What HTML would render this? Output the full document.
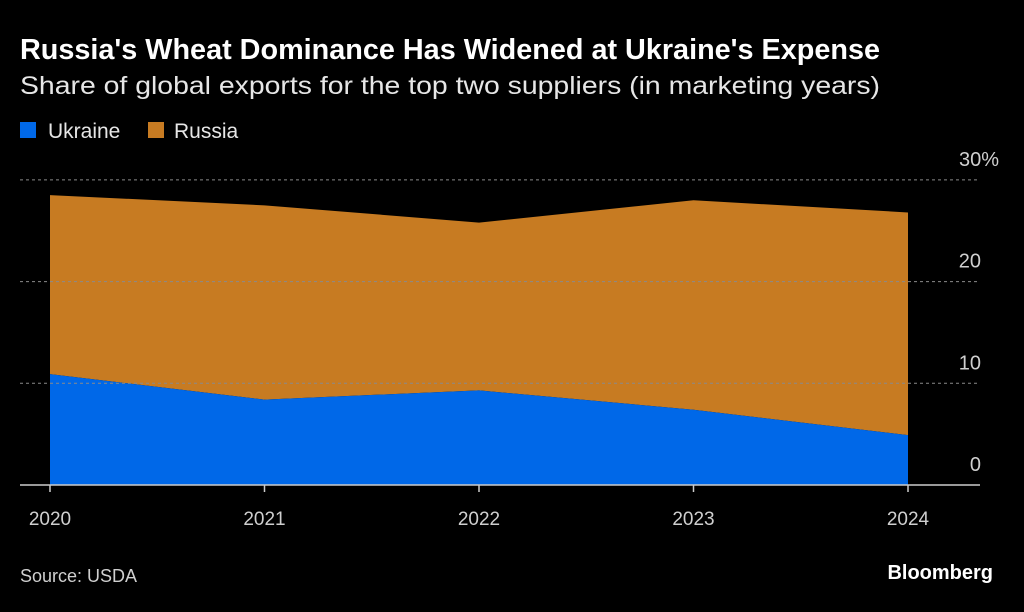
<!DOCTYPE html>
<html><head><meta charset="utf-8"><style>
body{margin:0;background:#000;width:1024px;height:607px;overflow:hidden;font-family:"Liberation Sans",sans-serif;color:#fff}
svg text{font-family:"Liberation Sans",sans-serif}
</style></head><body>
<svg width="1024" height="607">
<text x="20" y="59" font-size="28.5" font-weight="bold" fill="#fff" textLength="860" lengthAdjust="spacingAndGlyphs">Russia's Wheat Dominance Has Widened at Ukraine's Expense</text>
<text x="20" y="94" font-size="25" fill="#e6e6e6" textLength="860" lengthAdjust="spacingAndGlyphs">Share of global exports for the top two suppliers (in marketing years)</text>
<rect x="20" y="122" width="16" height="16" fill="#0068E8"/>
<text x="48" y="138" font-size="21" fill="#e6e6e6">Ukraine</text>
<rect x="148" y="122" width="16" height="16" fill="#C77B22"/>
<text x="174" y="138" font-size="21" fill="#e6e6e6">Russia</text>
<g id="plot"></g>
<text x="20" y="582" font-size="18" fill="#cfcfcf">Source: USDA</text>
<text x="993" y="579" font-size="20" font-weight="bold" fill="#fff" text-anchor="end">Bloomberg</text>
</svg>
<script>
const years=["2020","2021","2022","2023","2024"];
const ukraine=[10.9,8.4,9.3,7.4,4.9];
const russia=[17.6,19.1,16.5,20.6,21.9];
const yTicks=[0,10,20,30];
const ns="http://www.w3.org/2000/svg";
const plotG=document.getElementById("plot");
const xs=i=>50+i*214.5;
const ys=v=>485-v*10.17;
function mk(t,a){const e=document.createElementNS(ns,t);for(const k in a)e.setAttribute(k,a[k]);plotG.appendChild(e);return e;}
const topPts=years.map((_,i)=>xs(i)+","+ys(ukraine[i]+russia[i]));
const midPts=years.map((_,i)=>xs(i)+","+ys(ukraine[i]));
const r=mk("polygon",{points:topPts.concat(midPts.slice().reverse()).join(" "),fill:"#C77B22"});


const u=mk("polygon",{points:midPts.concat([xs(years.length-1)+","+ys(0),xs(0)+","+ys(0)]).join(" "),fill:"#0068E8"});


yTicks.forEach(v=>{
  if(v>0){const l=mk("line",{x1:20,x2:979,y1:ys(v),y2:ys(v),stroke:"#8a8a8a","stroke-dasharray":"3,3","stroke-width":1});
  
  }
  const t=mk("text",{x:981,y:ys(v)-14,"font-size":20,fill:"#cfcfcf","text-anchor":"end"});
  t.textContent=v;
  if(v===30){const s=document.createElementNS(ns,"tspan");s.textContent="%";t.appendChild(s);t.setAttribute("text-anchor","start");t.setAttribute("x",959);}
  
  
});
const ax=mk("line",{x1:20,x2:980,y1:ys(0),y2:ys(0),stroke:"#ccc","stroke-width":1.5});


years.forEach((yr,i)=>{
  const tk=mk("line",{x1:xs(i),x2:xs(i),y1:ys(0),y2:ys(0)+7,stroke:"#ccc","stroke-width":1.5});
  
  
  const t=mk("text",{x:xs(i),y:525,"font-size":19,fill:"#cfcfcf","text-anchor":"middle"});
  t.textContent=yr;
  
  
});
</script>
</body></html>
